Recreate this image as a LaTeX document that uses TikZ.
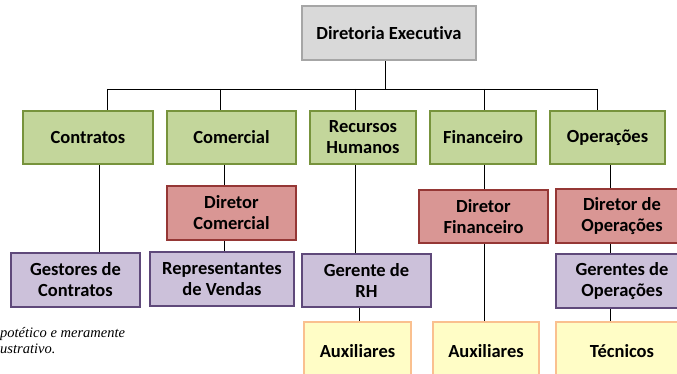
\documentclass[tikz,border=0pt]{standalone}
\usepackage{fontspec}
\setmainfont[RawFeature={-liga}]{Carlito}
\newfontfamily\notefont{Liberation Serif}
\usetikzlibrary{backgrounds,calc}
\definecolor{grayfill}{HTML}{D9D9D9}
\definecolor{grayline}{HTML}{A6A6A6}
\definecolor{greenfill}{HTML}{C3D69B}
\definecolor{greenline}{HTML}{77933C}
\definecolor{redfill}{HTML}{D99694}
\definecolor{redline}{HTML}{953735}
\definecolor{purplefill}{HTML}{CCC1DA}
\definecolor{purpleline}{HTML}{5F497A}
\definecolor{yellowfill}{HTML}{FFFDC6}
\definecolor{yellowline}{HTML}{FAC08F}
\begin{document}
\begin{tikzpicture}[x=1pt,y=-1pt,
  box/.style={draw, line width=2.4pt, rectangle, align=center, inner sep=2pt,
    font=\fontsize{18.5}{21}\selectfont\bfseries},
  graybox/.style={box, fill=grayfill, draw=grayline},
  greenbox/.style={box, fill=greenfill, draw=greenline},
  redbox/.style={box, fill=redfill, draw=redline},
  purplebox/.style={box, fill=purplefill, draw=purpleline},
  yellowbox/.style={box, fill=yellowfill, draw=yellowline},
  link/.style={draw=black, line width=0.9pt},
  note/.style={anchor=base west, inner sep=0pt, font=\notefont\itshape\fontsize{14.5}{16}\selectfont}
]
\useasboundingbox (0,0) rectangle (677,374);
\clip (0,0) rectangle (677,374);

% top
\node[graybox, minimum width=174pt, minimum height=54pt] (top) at (389,33) {Diretoria Executiva};

% level 1
\node[greenbox, minimum width=130pt, minimum height=53pt] (contratos) at (88,137.5) {Contratos};
\node[greenbox, minimum width=129pt, minimum height=53pt] (comercial) at (231.5,137.5) {Comercial};
\node[greenbox, minimum width=106pt, minimum height=53pt] (rh) at (363,137.5) {Recursos\\Humanos};
\node[greenbox, minimum width=106pt, minimum height=53pt] (financeiro) at (483,137.5) {Financeiro};
\node[greenbox, minimum width=115pt, minimum height=53pt] (operacoes) at (607.5,137.5) {Operações};

% directors
\node[redbox, minimum width=129pt, minimum height=54pt] (dircom) at (231.5,213) {Diretor\\Comercial};
\node[redbox, minimum width=129pt, minimum height=53pt] (dirfin) at (483.5,216.5) {Diretor\\Financeiro};
\node[redbox, minimum width=132pt, minimum height=54pt] (dirop) at (622,216) {Diretor de\\Operações};

% managers
\node[purplebox, minimum width=129pt, minimum height=54pt] (gestores) at (75.5,280) {Gestores de\\Contratos};
\node[purplebox, minimum width=144pt, minimum height=54pt] (repr) at (222,279) {Representantes\\de Vendas};
\node[purplebox, minimum width=129pt, minimum height=53pt] (gerrh) at (366.5,280.5) {Gerente de\\RH};
\node[purplebox, minimum width=132pt, minimum height=54pt] (gerop) at (622,281) {Gerentes de\\Operações};

% bottom
\node[yellowbox, minimum width=107pt, minimum height=58pt] (aux1) at (357.5,351) {Auxiliares};
\node[yellowbox, minimum width=106pt, minimum height=58pt] (aux2) at (486,351) {Auxiliares};
\node[yellowbox, minimum width=132pt, minimum height=58pt] (tecnicos) at (622,351) {Técnicos};

% note
\node[note] (note1) at (0,337) {potético e meramente};
\node[note] (note2) at (0,353) {ustrativo.};

\begin{scope}[on background layer]
  \coordinate (busL) at (107,89);
  \coordinate (busR) at (597,89);
  \draw[link] ([xshift=-4pt]top.south) -- ([xshift=-4pt]top.south |- busL);
  \draw[link] (busL) -- (busR);
  \draw[link] (busL) -- (busL |- contratos.north);
  \draw[link] ([xshift=-11.5pt]comercial.north |- busL) -- ([xshift=-11.5pt]comercial.north);
  \draw[link] ([xshift=-8pt]rh.north |- busL) -- ([xshift=-8pt]rh.north);
  \draw[link] ([xshift=1pt]financeiro.north |- busL) -- ([xshift=1pt]financeiro.north);
  \draw[link] (busR) -- (busR |- operacoes.north);
  % lower
  \draw[link] ([xshift=11pt]contratos.south) -- ([xshift=11pt]contratos.south |- gestores.north);
  \draw[link] ([xshift=-7.5pt]comercial.south) -- ([xshift=-7.5pt]comercial.south |- repr.north);
  \draw[link] ([xshift=-8pt]rh.south) -- ([xshift=-8pt]rh.south |- gerrh.north);
  \draw[link] ([xshift=-7.5pt]gerrh.south) -- ([xshift=-7.5pt]gerrh.south |- aux1.north);
  \draw[link] ([xshift=1pt]financeiro.south) -- ([xshift=1pt]financeiro.south |- aux2.north);
  \draw[link] ([xshift=2.5pt]operacoes.south) -- ([xshift=2.5pt]operacoes.south |- tecnicos.north);
\end{scope}
\end{tikzpicture}
\end{document}
